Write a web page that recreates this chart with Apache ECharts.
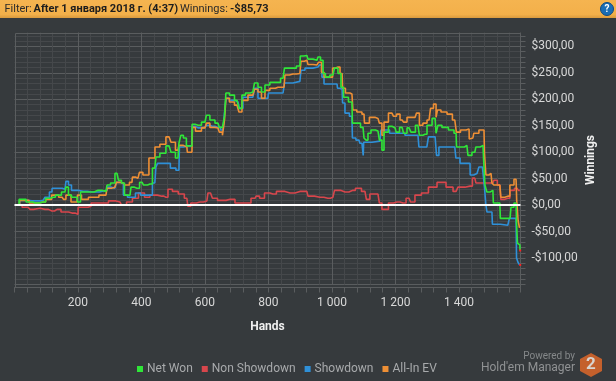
<!DOCTYPE html>
<html>
<head>
<meta charset="utf-8">
<style>
html, body { margin: 0; padding: 0; background: #363a3d; }
#chart { width: 616px; height: 381px; }
</style>
<script src="https://cdn.jsdelivr.net/npm/echarts@6/dist/echarts.min.js"></script>
</head>
<body>
<div id="chart"></div>
<script>
const legendNames = ['Net Won', 'Non Showdown', 'Showdown', 'All-In EV']
const zeroLine = 0

// [hand, winnings]
const netWon = [[5,0],[24,11],[49,6],[65,4],[90,6],[106,13],[121,15],[137,19],[159,25],[165,34],[175,19],[184,15],[197,15],[200,6],[216,25],[238,25],[263,28],[288,26],[295,38],[310,42],[323,60],[332,47],[342,42],[351,19],[364,19],[370,34],[386,32],[402,43],[411,38],[427,40],[442,70],[449,91],[467,98],[487,112],[499,100],[515,89],[521,117],[527,132],[537,127],[546,112],[559,112],[560,153],[578,151],[600,157],[609,170],[622,161],[641,155],[650,147],[660,147],[663,168],[669,212],[685,208],[701,198],[713,183],[720,208],[735,212],[751,214],[761,231],[773,223],[783,214],[795,227],[814,232],[830,232],[846,240],[855,259],[877,259],[899,263],[902,282],[921,283],[928,276],[953,274],[959,280],[969,274],[975,249],[984,242],[1003,246],[1013,259],[1025,249],[1032,223],[1041,204],[1063,195],[1066,155],[1082,155],[1098,147],[1104,127],[1110,123],[1117,136],[1129,142],[1145,140],[1154,123],[1161,104],[1167,138],[1189,149],[1199,146],[1205,138],[1221,147],[1230,136],[1243,146],[1255,138],[1271,151],[1280,132],[1293,134],[1306,151],[1325,164],[1331,136],[1337,151],[1356,147],[1378,142],[1391,136],[1394,110],[1410,110],[1425,113],[1432,94],[1450,100],[1457,110],[1476,113],[1479,89],[1485,38],[1491,25],[1507,28],[1510,4],[1529,4],[1532,-25],[1561,-25],[1567,-4],[1580,4],[1583,-34],[1586,-72],[1592,-75],[1593,-85.73]]
const nonShowdown = [[5,0],[43,-4],[55,-8],[65,-6],[96,-8],[118,-11],[134,-8],[159,-13],[181,-15],[200,-17],[201,-4],[222,-4],[241,-2],[242,4],[285,4],[307,8],[332,6],[342,0],[364,6],[379,13],[402,23],[417,15],[436,19],[464,17],[477,15],[490,30],[505,26],[527,21],[543,13],[549,-2],[562,4],[584,6],[606,8],[613,23],[622,21],[625,13],[654,9],[679,11],[710,4],[732,4],[758,13],[764,17],[780,13],[795,23],[814,21],[836,26],[868,23],[899,26],[921,26],[928,17],[962,15],[987,13],[1003,15],[1013,28],[1041,25],[1066,28],[1082,32],[1104,26],[1113,11],[1126,21],[1145,21],[1154,4],[1161,-8],[1173,-8],[1183,4],[1205,6],[1224,4],[1243,13],[1252,6],[1271,19],[1293,23],[1315,34],[1347,43],[1372,34],[1391,26],[1403,34],[1435,36],[1450,51],[1457,42],[1482,42],[1507,42],[1513,47],[1529,38],[1535,11],[1554,13],[1567,28],[1583,32],[1592,28]]
const showdown = [[5,0],[27,9],[55,8],[80,8],[90,9],[102,15],[118,25],[119,32],[150,32],[159,30],[165,45],[175,38],[184,28],[216,26],[244,25],[291,28],[295,34],[316,32],[326,43],[338,42],[348,19],[364,15],[373,15],[389,23],[405,19],[427,19],[442,42],[449,72],[452,79],[483,79],[499,70],[518,66],[521,110],[543,112],[559,112],[562,149],[578,146],[600,147],[609,151],[622,149],[641,147],[657,142],[663,164],[669,202],[685,198],[704,195],[713,183],[726,204],[751,204],[761,221],[773,202],[798,202],[802,212],[846,212],[855,231],[899,234],[906,255],[924,259],[956,261],[965,265],[972,242],[978,229],[1016,229],[1019,221],[1032,219],[1035,193],[1047,174],[1063,168],[1066,127],[1085,123],[1091,117],[1098,117],[1099,94],[1101,119],[1151,121],[1158,142],[1205,136],[1255,132],[1271,132],[1277,110],[1299,110],[1309,129],[1325,129],[1334,94],[1340,110],[1387,110],[1394,89],[1413,79],[1435,79],[1436,57],[1457,60],[1469,72],[1479,70],[1482,34],[1488,0],[1489,-13],[1504,-13],[1507,-36],[1554,-38],[1564,-25],[1580,-25],[1583,-100],[1589,-108],[1593,-113]]
const allInEv = [[5,0],[27,9],[65,4],[90,6],[106,11],[128,19],[150,15],[159,11],[165,19],[175,19],[181,6],[197,6],[200,19],[222,11],[244,15],[288,19],[295,32],[316,34],[326,43],[342,42],[354,38],[370,43],[373,53],[389,51],[398,62],[411,57],[436,89],[449,110],[467,115],[487,129],[499,119],[515,104],[521,113],[543,110],[546,100],[559,100],[562,147],[578,140],[600,146],[609,155],[622,147],[641,146],[650,138],[660,132],[663,161],[669,202],[685,195],[701,189],[713,176],[720,198],[751,208],[761,219],[773,214],[783,202],[795,217],[814,221],[830,223],[849,223],[855,246],[877,248],[899,249],[906,272],[921,274],[928,266],[953,265],[962,270],[972,251],[978,242],[994,242],[1010,259],[1019,261],[1032,249],[1035,221],[1050,212],[1063,210],[1069,180],[1088,176],[1101,172],[1104,155],[1110,155],[1126,166],[1145,164],[1154,155],[1161,132],[1167,157],[1189,174],[1199,168],[1208,172],[1221,161],[1230,157],[1243,166],[1262,166],[1271,174],[1280,151],[1293,155],[1306,161],[1315,183],[1325,191],[1331,166],[1334,180],[1353,176],[1372,172],[1387,161],[1397,138],[1413,142],[1432,144],[1433,125],[1444,127],[1450,136],[1460,136],[1466,142],[1479,142],[1482,98],[1488,57],[1501,60],[1507,42],[1513,38],[1529,38],[1535,15],[1554,17],[1567,38],[1580,49],[1584,9],[1589,-30],[1593,-43]]

const font = 'Roboto, sans-serif'
const lineMajor = '#5a5d5f'
const lineMinor = '#45484b'

function fmtHands(v) {
    return v >= 1000 ? String(v).replace(/(\d)(\d{3})$/, '$1 $2') : String(v)
}
function fmtMoney(v) {
    return (v < 0 ? '-$' : '$') + Math.abs(v) + ',00'
}

function makeSeries(name, data, color, extra) {
    return Object.assign({
        name: name,
        type: 'line',
        step: 'middle',
        data: data,
        showSymbol: false,
        lineStyle: { color: color, width: 1.6 },
        itemStyle: { color: color }
    }, extra)
}

function endDot(data) {
    return {
        symbol: 'rect',
        symbolSize: 2,
        silent: true,
        label: { show: false },
        itemStyle: { color: '#ff2020' },
        data: [{ coord: data[data.length - 1] }]
    }
}

const myChart = echarts.init(document.getElementById('chart'), null, { renderer: 'canvas' })
myChart.setOption({
    animation: false,
    backgroundColor: '#363a3d',
    textStyle: { fontFamily: font },
    grid: { left: 14.5, top: 20, width: 506, height: 264.5 },
    legend: {
        data: legendNames,
        left: 132,
        top: 358,
        itemWidth: 6,
        itemHeight: 6,
        itemGap: 9,
        icon: 'rect',
        selectedMode: false,
        textStyle: { color: '#a8aaac', fontSize: 12, fontFamily: font, padding: [0, 0, 0, -1] }
    },
    xAxis: {
        type: 'value',
        min: 0,
        max: 1594,
        interval: 200,
        offset: 3,
        name: 'Hands',
        nameLocation: 'middle',
        nameGap: 33,
        nameTextStyle: { color: '#f0f0f0', fontSize: 12, fontWeight: 'bold', fontFamily: font },
        axisLine: { onZero: false, lineStyle: { color: lineMajor } },
        axisTick: { show: true, length: 5, lineStyle: { color: lineMajor } },
        minorTick: { show: true, splitNumber: 5, length: 5, lineStyle: { color: lineMajor } },
        axisLabel: {
            color: '#d8d8d8', fontSize: 12, fontFamily: font, margin: 9,
            showMinLabel: false, showMaxLabel: false, formatter: fmtHands
        },
        splitLine: { show: true, showMinLine: false, showMaxLine: false, lineStyle: { color: lineMajor } },
        minorSplitLine: { show: true, lineStyle: { color: lineMinor } }
    },
    yAxis: {
        type: 'value',
        position: 'right',
        min: -150,
        max: 350,
        interval: 50,
        axisLine: { show: true, onZero: false, lineStyle: { color: lineMajor } },
        axisTick: { show: true, length: 5, lineStyle: { color: lineMajor } },
        minorTick: { show: true, splitNumber: 5, length: 5, lineStyle: { color: lineMajor } },
        axisLabel: {
            color: '#d8d8d8', fontSize: 12, fontFamily: font, margin: 11,
            showMinLabel: false, showMaxLabel: false, formatter: fmtMoney
        },
        splitLine: { show: true, lineStyle: { color: lineMajor } },
        minorSplitLine: { show: true, lineStyle: { color: lineMinor } }
    },
    series: [
        makeSeries('Non Showdown', nonShowdown, '#d8464c'),
        makeSeries('Showdown', showdown, '#2f90d8', { markPoint: endDot(showdown) }),
        makeSeries('All-In EV', allInEv, '#ee8f35'),
        makeSeries('Net Won', netWon, '#2fe638', {
            markPoint: endDot(netWon),
            markLine: {
                silent: true,
                symbol: 'none',
                label: { show: false },
                lineStyle: { color: '#ffffff', width: 2, type: 'solid' },
                data: [{ yAxis: zeroLine }]
            }
        })
    ],
    graphic: [
        // the plot stops at y=33, the scale above it is only there to keep the minor lines regular
        { type: 'rect', z: 1, shape: { x: 0, y: 18, width: 616, height: 14.5 }, style: { fill: '#363a3d' } },
        { type: 'rect', z: 1, shape: { x: 15.5, y: 33.5, width: 505, height: 254 }, style: { fill: 'none', stroke: lineMajor, lineWidth: 1 } },
        {
            type: 'rect', z: 3, shape: { x: 0, y: 0, width: 616, height: 18 },
            style: {
                fill: new echarts.graphic.LinearGradient(0, 0, 0, 1, [
                    { offset: 0, color: '#f5b450' },
                    { offset: 0.8, color: '#f3b04a' },
                    { offset: 1, color: '#d99a3e' }
                ])
            }
        },
        { type: 'text', z: 4, x: 4.5, y: 9, style: { text: 'Filter:', font: '11px ' + font, fill: '#2a2a2a', verticalAlign: 'middle' } },
        { type: 'text', z: 4, x: 33.5, y: 9, style: { text: 'After 1 января 2018 г. (4:37)', font: 'bold 11px ' + font, fill: '#1d1d1d', verticalAlign: 'middle' } },
        { type: 'text', z: 4, x: 180, y: 9, style: { text: 'Winnings:', font: '11px ' + font, fill: '#2a2a2a', verticalAlign: 'middle' } },
        { type: 'text', z: 4, x: 230, y: 9, style: { text: '-$85,73', font: 'bold 11px ' + font, fill: '#1d1d1d', verticalAlign: 'middle' } },
        { type: 'circle', z: 4, shape: { cx: 607, cy: 9, r: 6.5 }, style: { fill: '#1a6db5', stroke: '#0f4a80', lineWidth: 1 } },
        { type: 'text', z: 5, x: 607, y: 9, style: { text: '?', font: 'bold 10px ' + font, fill: '#ffffff', align: 'center', verticalAlign: 'middle' } },
        { type: 'text', z: 4, x: 591, y: 160, rotation: Math.PI / 2, style: { text: 'Winnings', font: 'bold 12px ' + font, fill: '#f0f0f0', align: 'center', verticalAlign: 'middle' } },
        { type: 'text', z: 4, x: 575, y: 356, style: { text: 'Powered by', font: '10px ' + font, fill: '#85888a', align: 'right', verticalAlign: 'middle' } },
        { type: 'text', z: 4, x: 575, y: 368, style: { text: "Hold'em Manager", font: '12px ' + font, fill: '#909294', align: 'right', verticalAlign: 'middle' } },
        {
            type: 'polygon', z: 4,
            shape: { points: [[591, 353], [602, 359], [602, 371], [591, 377], [580, 371], [580, 359]] },
            style: { fill: '#c4602c' }
        },
        { type: 'text', z: 5, x: 591, y: 365, style: { text: '2', font: 'bold 17px ' + font, fill: '#d8d4d0', align: 'center', verticalAlign: 'middle' } }
    ]
})
</script>
</body>
</html>
